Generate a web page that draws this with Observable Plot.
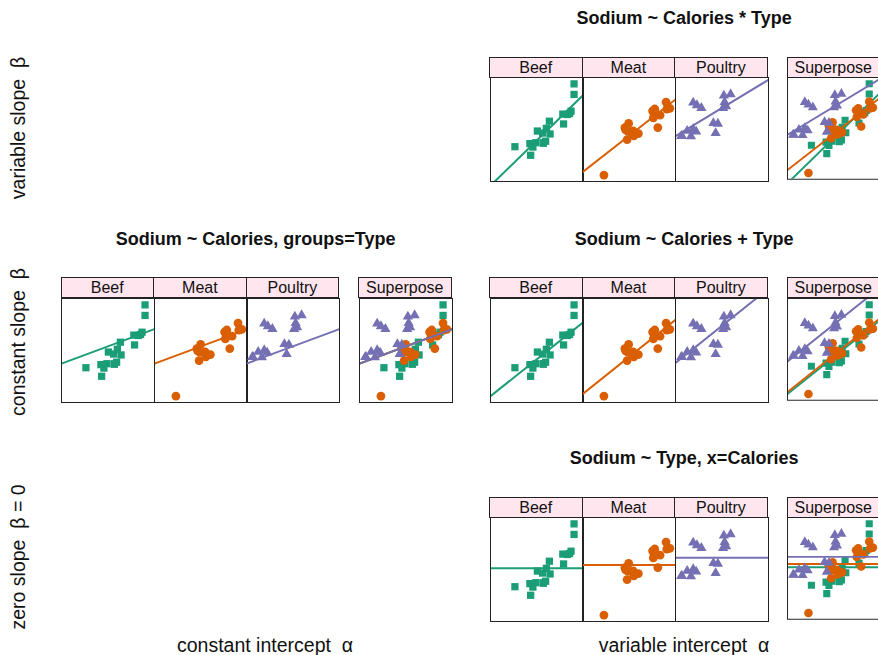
<!DOCTYPE html>
<html>
<head>
<meta charset="utf-8">
<script src="https://cdn.jsdelivr.net/npm/d3@7"></script>
<script src="https://cdn.jsdelivr.net/npm/@observablehq/plot@0.6"></script>
<style>
  html, body { margin: 0; padding: 0; background: #fff; }
  #root { position: relative; width: 878px; height: 655px; overflow: hidden; font-family: "Liberation Sans", Arial, sans-serif; color: #111; }
  .abs { position: absolute; }
  .title { font-weight: bold; font-size: 18px; white-space: pre; transform: translateX(-50%); line-height: 1; }
  .strip { background: #ffe6ee; border: 1px solid #222; box-sizing: border-box; text-align: center; font-size: 16px; line-height: 19px; white-space: nowrap; overflow: hidden; }
  .rowlab { font-size: 19.5px; white-space: pre; transform: translate(-50%, -50%) rotate(-90deg); line-height: 1; }
  .collab { font-size: 19.5px; white-space: pre; transform: translateX(-50%); line-height: 1; }
  svg { overflow: visible; }
</style>
</head>
<body>
<div id="root"></div>
<script>
// ---- data: hot dogs ----
const types = ["Beef", "Meat", "Poultry"];
const beefCalories = [186, 181, 176, 149, 184, 190, 158, 139, 175, 148, 152, 111, 141, 153, 190, 157, 131, 149, 135, 132];
const beefSodium   = [495, 477, 425, 322, 482, 587, 370, 322, 479, 375, 330, 300, 386, 401, 645, 440, 317, 319, 298, 253];
const meatCalories = [173, 191, 182, 190, 172, 147, 146, 139, 175, 136, 179, 153, 107, 195, 135, 140, 138];
const meatSodium   = [458, 506, 473, 545, 496, 360, 387, 386, 507, 393, 405, 372, 144, 511, 405, 428, 339];
const poultryCalories = [129, 132, 102, 106, 94, 102, 87, 99, 107, 113, 135, 142, 86, 143, 152, 146, 144];
const poultrySodium   = [430, 375, 396, 383, 387, 542, 359, 357, 528, 513, 426, 513, 358, 581, 588, 522, 545];
const colors = ["#1B9E77", "#D95F02", "#7570B3"];
const symbols = ["square", "circle", "triangle"];
const modelTitles = ["Sodium ~ Calories * Type", "Sodium ~ Calories, groups=Type", "Sodium ~ Calories + Type", "Sodium ~ Type, x=Calories"];
const rowLabels = ["variable slope  \u03b2", "constant slope  \u03b2", "zero slope  \u03b2 = 0"];
const colLabels = ["constant intercept  \u03b1", "variable intercept  \u03b1"];

const cal = [beefCalories, meatCalories, poultryCalories];
const sod = [beefSodium, meatSodium, poultrySodium];
const rows = [];
types.forEach((t, i) => cal[i].forEach((c, j) => rows.push({type: t, calories: c, sodium: sod[i][j]})));

// ---- fits ----
function fit(xs, ys) {
  const mx = d3.mean(xs), my = d3.mean(ys);
  let sxy = 0, sxx = 0;
  xs.forEach((x, i) => { sxy += (x - mx) * (ys[i] - my); sxx += (x - mx) ** 2; });
  const b = sxy / sxx; return {a: my - b * mx, b};
}
const sepFit = types.map((t, i) => fit(cal[i], sod[i]));
const allFit = fit(rows.map(d => d.calories), rows.map(d => d.sodium));
const commonFit = types.map(() => allFit);
let Sxy = 0, Sxx = 0;
types.forEach((t, i) => {
  const mx = d3.mean(cal[i]), my = d3.mean(sod[i]);
  cal[i].forEach((x, j) => { Sxy += (x - mx) * (sod[i][j] - my); Sxx += (x - mx) ** 2; });
});
const bCommon = Sxy / Sxx;
const ancovaFit = types.map((t, i) => ({a: d3.mean(sod[i]) - bCommon * d3.mean(cal[i]), b: bCommon}));
const zeroFit = types.map((t, i) => ({a: d3.mean(sod[i]), b: 0}));

function padExt(v) { const [lo, hi] = d3.extent(v); const p = 0.07 * (hi - lo); return [lo - p, hi + p]; }
const xDom = padExt(rows.map(d => d.calories));
const yDom = padExt(rows.map(d => d.sodium));
const radius = {square: 4.1, circle: 4.4, triangle: 3.8};

function panel(idx, coefs) {
  const marks = [];
  idx.forEach(i => {
    const pts = rows.filter(d => d.type === types[i]);
    marks.push(Plot.dot(pts, {x: "calories", y: "sodium", symbol: () => symbols[i], fill: colors[i], r: radius[symbols[i]], clip: true}));
    const c = coefs[i];
    const ln = xDom.map(x => ({x, y: c.a + c.b * x}));
    marks.push(Plot.line(ln, {x: "x", y: "y", stroke: colors[i], strokeWidth: 2, clip: true}));
  });
  marks.push(Plot.frame({stroke: "#222", strokeWidth: 1}));
  return Plot.plot({
    width: 93, height: 104, margin: 0,
    x: {domain: xDom, axis: null},
    y: {domain: yDom, axis: null},
    symbol: {type: "identity"},
    style: {background: "transparent", overflow: "visible"},
    marks
  });
}

const root = document.getElementById("root");
function add(el, left, top) { el.classList.add("abs"); el.style.left = left + "px"; el.style.top = top + "px"; root.appendChild(el); return el; }
function div(cls, text) { const d = document.createElement("div"); d.className = cls; d.textContent = text; return d; }

const colX = [60.5, 489];
const rowY = [56.7, 277, 496.7];
const W = 92.6, stripH = 20.6, gapSuper = 297.5;
const models = [
  {title: modelTitles[0], r: 0, c: 1, coefs: sepFit},
  {title: modelTitles[1], r: 1, c: 0, coefs: commonFit},
  {title: modelTitles[2], r: 1, c: 1, coefs: ancovaFit},
  {title: modelTitles[3], r: 2, c: 1, coefs: zeroFit}
];
models.forEach(m => {
  const x0 = colX[m.c], y0 = rowY[m.r];
  add(div("title", m.title), x0 + (gapSuper + W) / 2, y0 - 47.5);
  const cells = [[0], [1], [2], [0, 1, 2]];
  const labels = [...types, "Superpose"];
  cells.forEach((idx, k) => {
    const left = k < 3 ? x0 + k * W : x0 + gapSuper;
    const s = add(div("strip", labels[k]), left, y0);
    s.style.width = "93.5px"; s.style.height = "21px";
    const wrap = document.createElement("div");
    wrap.appendChild(panel(idx, m.coefs));
    add(wrap, left + 0.5, y0 + stripH);
  });
});
const rowCY = [128, 342, 557];
rowLabels.forEach((t, i) => add(div("rowlab", t), 19, rowCY[i]));
const colCX = [265, 684];
colLabels.forEach((t, i) => add(div("collab", t), colCX[i], 636));
</script>
</body>
</html>
